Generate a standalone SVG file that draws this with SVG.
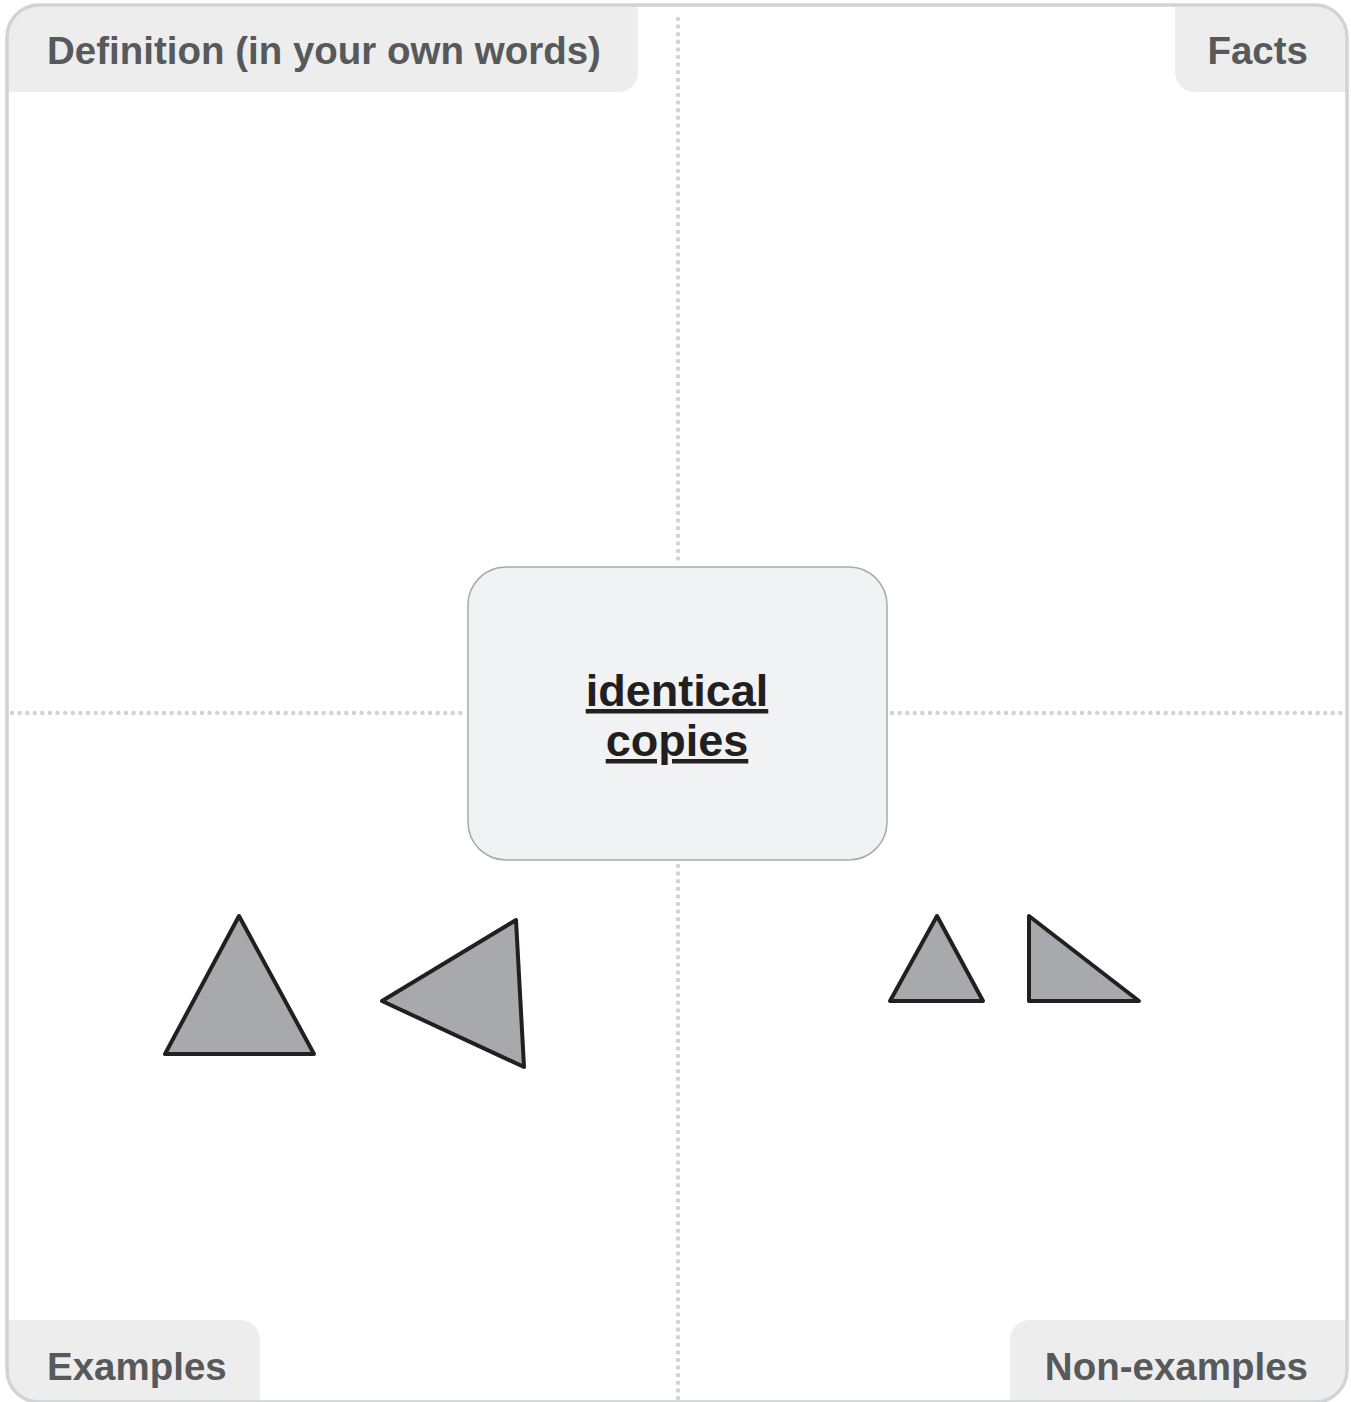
<svg xmlns="http://www.w3.org/2000/svg" width="1351" height="1402" viewBox="0 0 1351 1402">
<style>
.tab{fill:#ededed;}
.lbl{font-family:"Liberation Sans",Arial,sans-serif;font-weight:bold;font-size:38.5px;fill:#58595b;}
.dots{stroke:#d1d3d4;stroke-width:4.5;stroke-linecap:round;stroke-dasharray:0 7.6;fill:none;}
.tri{fill:#a7a9ac;stroke:#231f20;stroke-width:4;stroke-linejoin:round;}
.term{font-family:"Liberation Sans",Arial,sans-serif;font-weight:bold;font-size:45px;fill:#231f20;text-anchor:middle;text-decoration:underline;}
</style>
<rect x="0" y="0" width="1351" height="1402" fill="#ffffff"/>
<g id="tabs">
<g id="tab-definition">
<path class="tab" d="M7,37 A32,32 0 0 1 39,5 H638 V72 A20,20 0 0 1 618,92 H7 Z"/>
<text class="lbl" x="47" y="64">Definition (in your own words)</text>
</g>
<g id="tab-facts">
<path class="tab" d="M1175,5 H1315 A32,32 0 0 1 1347,37 V92 H1195 A20,20 0 0 1 1175,72 Z"/>
<text class="lbl" x="1308" y="64" text-anchor="end">Facts</text>
</g>
<g id="tab-examples">
<path class="tab" d="M7,1320 H240 A20,20 0 0 1 260,1340 V1402 H39 A32,32 0 0 1 7,1370 Z"/>
<text class="lbl" x="47" y="1380">Examples</text>
</g>
<g id="tab-nonexamples">
<path class="tab" d="M1030,1320 H1347 V1370 A32,32 0 0 1 1315,1402 H1010 V1340 A20,20 0 0 1 1030,1320 Z"/>
<text class="lbl" x="1308" y="1380" text-anchor="end">Non-examples</text>
</g>
</g>
<rect id="frame" x="7" y="5" width="1340" height="1397" rx="32" ry="32" fill="none" stroke="#d1d3d4" stroke-width="3.5"/>
<g id="connectors">
<line class="dots" x1="678" y1="19" x2="678" y2="565"/>
<line class="dots" x1="678" y1="866" x2="678" y2="1400"/>
<line class="dots" x1="12" y1="713" x2="464" y2="713"/>
<line class="dots" x1="892" y1="713" x2="1346" y2="713"/>
</g>
<g id="center">
<rect x="468" y="567" width="419" height="293" rx="38" ry="38" fill="#f1f2f3" stroke="#a7a9ac" stroke-width="1.5"/>
<text class="term" x="677" y="706">identical</text>
<text class="term" x="677" y="756">copies</text>
</g>
<g id="examples">
<polygon class="tri" points="239,916 165,1054 314,1054"/>
<polygon class="tri" points="382,1001 516,920 524,1067"/>
</g>
<g id="nonexamples">
<polygon class="tri" points="937,916 890,1001 983,1001"/>
<polygon class="tri" points="1029,916 1029,1001 1139,1001"/>
</g>
</svg>
